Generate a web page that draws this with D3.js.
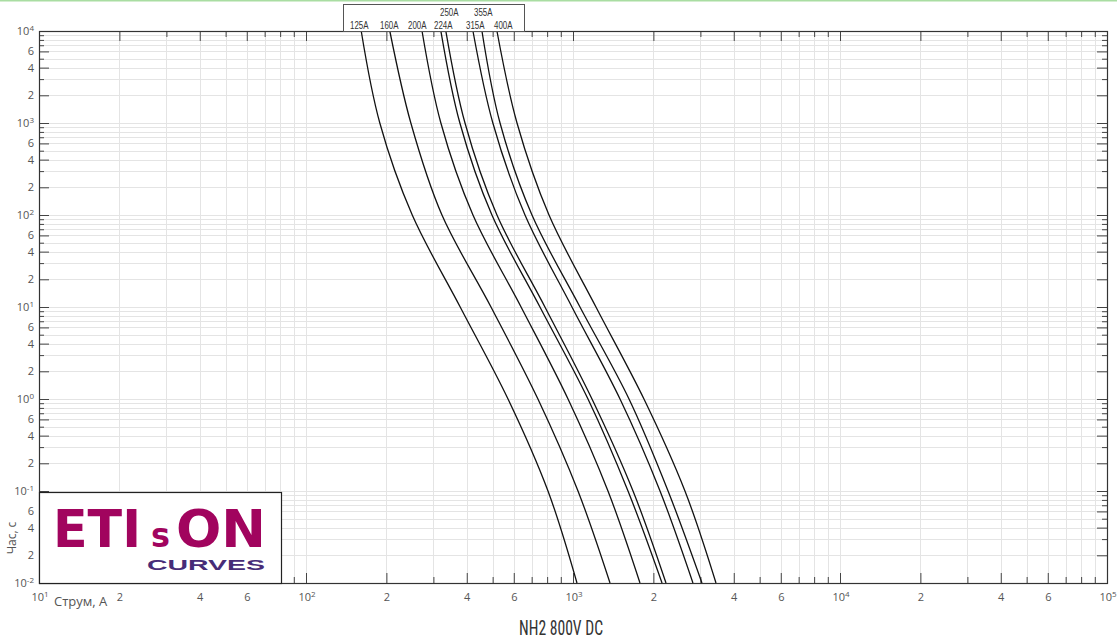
<!DOCTYPE html>
<html><head><meta charset="utf-8">
<script src="https://cdn.jsdelivr.net/npm/d3@7/dist/d3.min.js"></script>
<style>body{margin:0;background:#fff}svg{display:block}</style>
</head><body>
<svg id="c" width="1117" height="644"></svg>
<script>
// ---- data ----
const times = [10000, 1000, 100, 10, 1, 0.1, 0.01];
const fuseLabels = ["125A","160A","200A","224A","250A","315A","355A","400A"];
const i125 = [161, 189, 250, 378, 571, 806, 1035];
const i160 = [206, 247, 323, 493, 739, 1044, 1376];
const i200 = [272, 320, 422, 639, 958, 1352, 1782];
const i224 = [320, 377, 497, 752, 1138, 1607, 2155];
const i250 = [334, 394, 519, 785, 1178, 1678, 2230];
const i315 = [422, 501, 661, 991, 1500, 2118, 2814];
const i355 = [456, 533, 702, 1062, 1621, 2270, 3041];
const i400 = [519, 617, 813, 1219, 1844, 2626, 3432];
const seriesCurrents = [i125, i160, i200, i224, i250, i315, i355, i400];
const xDomain = [10, 100000];
const yDomain = [0.01, 10000];
const labeledMult = [1, 2, 4, 6];
const title = "NH2 800V DC";
const xLabel = "Струм, А";
const yLabel = "Час, с";

// ---- drawing ----
const svg = d3.select("#c");
const L = 39, R = 1107, T = 31, B = 583;
const x = d3.scaleLog().domain(xDomain).range([L, R]);
const y = d3.scaleLog().domain(yDomain).range([B, T]);

svg.append("rect").attr("x",0).attr("y",0).attr("width",1117).attr("height",1.5).attr("fill","#a9dda2");

function allTicks(dom){
  const out=[]; const e0=Math.round(Math.log10(dom[0])), e1=Math.round(Math.log10(dom[1]));
  for(let e=e0;e<=e1;e++){ for(let k=1;k<=9;k++){ const v=k*Math.pow(10,e); if(v<=dom[1]*1.0001) out.push(v);} }
  return out;
}
function isLabeled(v){ const e=Math.floor(Math.log10(v)+1e-9); const m=Math.round(v/Math.pow(10,e)); return labeledMult.includes(m); }
function isDecade(v){ const e=Math.log10(v); return Math.abs(e-Math.round(e))<1e-9; }

const xt = allTicks(xDomain), yt = allTicks(yDomain);
const grid = svg.append("g").attr("stroke","#e4e4e4").attr("stroke-width",1);
xt.forEach(v=>{ const px=Math.round(x(v))+0.5; grid.append("line").attr("x1",px).attr("x2",px).attr("y1",T).attr("y2",B); });
yt.forEach(v=>{ const py=Math.round(y(v))+0.5; grid.append("line").attr("x1",L).attr("x2",R).attr("y1",py).attr("y2",py); });

const tickColor="#444", labColor="#555", fnt="'Open Sans', sans-serif";
function styleAxis(g){ g.select(".domain").remove(); g.selectAll("line").attr("stroke",tickColor); g.selectAll("text").attr("fill",labColor).attr("font-family",fnt).attr("font-size",11); }
function supLabels(g){
  g.selectAll(".tick text").each(function(d){
    const t=d3.select(this);
    if(isDecade(d)){
      t.text(null);
      t.append("tspan").text("10");
      t.append("tspan").attr("dy","-0.45em").attr("font-size",8).text(String(Math.round(Math.log10(d))));
    }
  });
}
const mantissa = v => String(Math.round(v/Math.pow(10,Math.floor(Math.log10(v)+1e-9))));
const xMaj = xt.filter(isLabeled), xMin = xt.filter(v=>!isLabeled(v));
const yMaj = yt.filter(isLabeled), yMin = yt.filter(v=>!isLabeled(v));

// bottom
svg.append("g").attr("transform",`translate(0,${B})`).call(d3.axisBottom(x).tickValues(xMin).tickSizeInner(-6).tickSizeOuter(0).tickFormat("")).call(styleAxis);
const gb = svg.append("g").attr("transform",`translate(0,${B})`).call(d3.axisBottom(x).tickValues(xMaj).tickSizeInner(-10).tickSizeOuter(0).tickPadding(10).tickFormat(v=>isDecade(v)?"":mantissa(v))).call(styleAxis);
gb.selectAll(".tick text").each(function(d){ if(isDecade(d)){ const t=d3.select(this).attr("text-anchor","start").attr("x",-8); t.append("tspan").text("10"); t.append("tspan").attr("dy","-0.45em").attr("font-size",8).text(String(Math.round(Math.log10(d)))); } });
// top
svg.append("g").attr("transform",`translate(0,${T})`).call(d3.axisTop(x).tickValues(xMin).tickSizeInner(-6).tickSizeOuter(0).tickFormat("")).call(styleAxis);
svg.append("g").attr("transform",`translate(0,${T})`).call(d3.axisTop(x).tickValues(xMaj).tickSizeInner(-10).tickSizeOuter(0).tickFormat("")).call(styleAxis);
// left
svg.append("g").attr("transform",`translate(${L},0)`).call(d3.axisLeft(y).tickValues(yMin).tickSizeInner(-5).tickSizeOuter(0).tickFormat("")).call(styleAxis);
const gl = svg.append("g").attr("transform",`translate(${L},0)`).call(d3.axisLeft(y).tickValues(yMaj).tickSizeInner(-10).tickSizeOuter(0).tickPadding(5).tickFormat(v=>isDecade(v)?"":mantissa(v))).call(styleAxis);
supLabels(gl);
// right
svg.append("g").attr("transform",`translate(${R},0)`).call(d3.axisRight(y).tickValues(yMin).tickSizeInner(-5).tickSizeOuter(0).tickFormat("")).call(styleAxis);
svg.append("g").attr("transform",`translate(${R},0)`).call(d3.axisRight(y).tickValues(yMaj).tickSizeInner(-10).tickSizeOuter(0).tickFormat("")).call(styleAxis);

// frame
svg.append("rect").attr("x",L+0.5).attr("y",T+0.5).attr("width",R-L).attr("height",B-T).attr("fill","none").attr("stroke","#333").attr("stroke-width",1.2);

// curves
const line = d3.line().x(d=>x(d[0])).y(d=>y(d[1])).curve(d3.curveMonotoneY);
const cg = svg.append("g").attr("fill","none").attr("stroke","#111").attr("stroke-width",1.3);
seriesCurrents.forEach(arr=>{
  cg.append("path").attr("d", line(arr.map((c,i)=>[c,times[i]])));
});

// legend box
const lg = svg.append("g");
lg.append("rect").attr("x",343.5).attr("y",4.5).attr("width",181).attr("height",27).attr("fill","#fff").attr("stroke","#555");
const legPos = {"125A":[350,28.5],"160A":[380,28.5],"200A":[408,28.5],"224A":[434,28.5],"250A":[440,16],"315A":[466,28.5],"355A":[474,16],"400A":[494,28.5]};
fuseLabels.forEach(l=>{
  lg.append("text").attr("x",legPos[l][0]).attr("y",legPos[l][1]).attr("font-family","'Liberation Sans', sans-serif").attr("font-size",10.5).attr("fill","#333")
    .attr("textLength",18.5).attr("lengthAdjust","spacingAndGlyphs").text(l);
});

// logo box
const lb = svg.append("g");
lb.append("rect").attr("x",39.5).attr("y",492.5).attr("width",242).attr("height",91).attr("fill","#fff").attr("stroke","#222").attr("stroke-width",1.2);
const mag="#a1045e", pur="#472c78", lf="'DejaVu Sans', sans-serif";
lb.append("text").attr("x",53).attr("y",547).attr("font-family",lf).attr("font-weight","bold").attr("font-size",51).attr("fill",mag).attr("textLength",88).attr("lengthAdjust","spacingAndGlyphs").text("ETI");
lb.append("text").attr("x",151).attr("y",547).attr("font-family",lf).attr("font-weight","bold").attr("font-size",33).attr("fill",mag).attr("textLength",19).attr("lengthAdjust","spacingAndGlyphs").text("s");
lb.append("text").attr("x",176).attr("y",547).attr("font-family",lf).attr("font-weight","bold").attr("font-size",51).attr("fill",mag).attr("textLength",90).attr("lengthAdjust","spacingAndGlyphs").text("ON");
lb.append("text").attr("x",147).attr("y",569.5).attr("font-family","'Liberation Sans', sans-serif").attr("font-weight","bold").attr("font-size",14.5).attr("fill",pur).attr("textLength",118).attr("lengthAdjust","spacingAndGlyphs").text("CURVES");

// axis titles
svg.append("text").attr("x",54).attr("y",606).attr("font-family",fnt).attr("font-size",13).attr("fill","#555").text(xLabel);
svg.append("text").attr("transform","translate(16,538) rotate(-90)").attr("text-anchor","middle").attr("font-family",fnt).attr("font-size",12).attr("fill","#555").text(yLabel);
svg.append("text").attr("x",561).attr("y",635).attr("text-anchor","middle").attr("font-family","'Liberation Sans Narrow','Roboto Condensed','Liberation Sans',sans-serif").attr("font-size",21).attr("fill","#333").attr("textLength",84).attr("lengthAdjust","spacingAndGlyphs").text(title);
</script>
</body></html>
